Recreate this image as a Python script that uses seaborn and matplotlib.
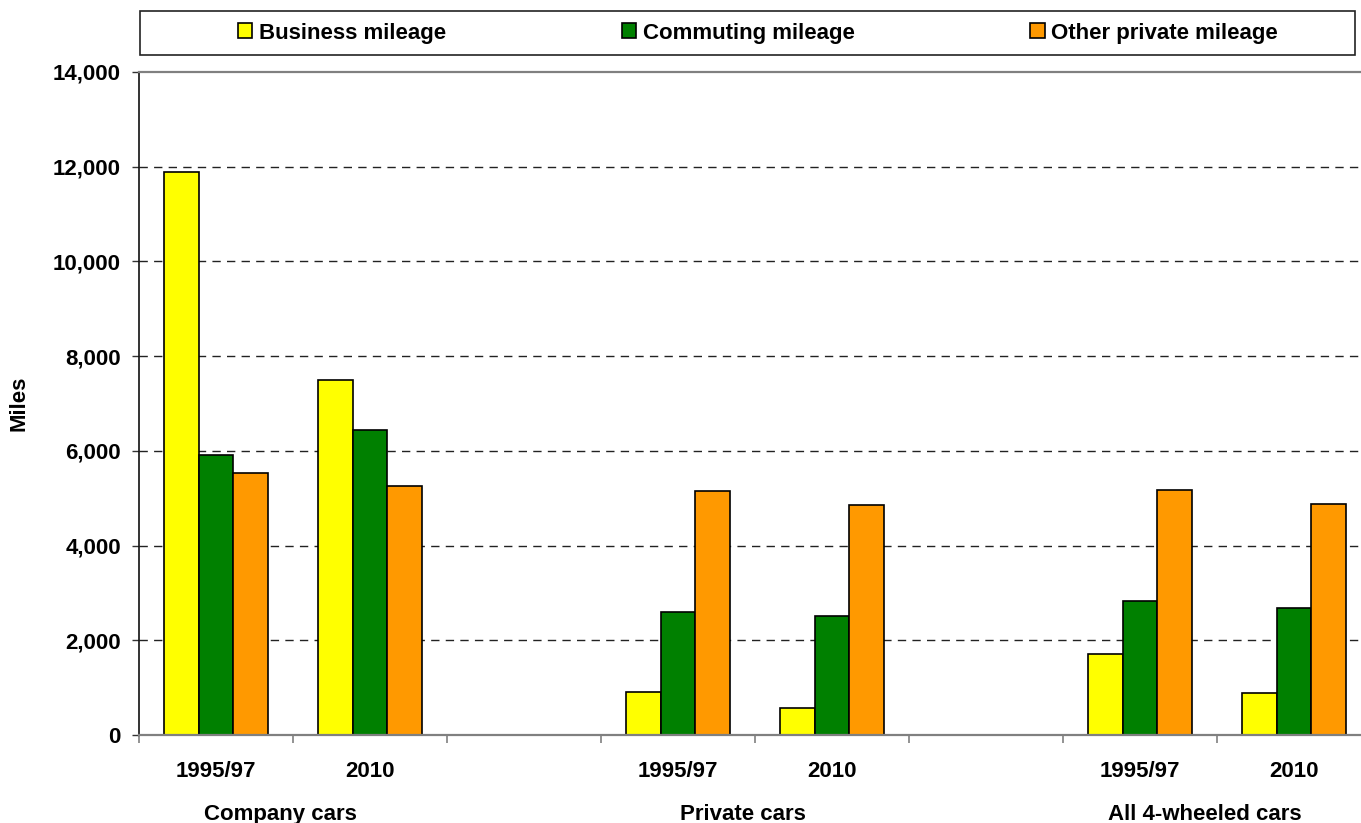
import matplotlib
matplotlib.use("Agg")
import matplotlib.pyplot as plt
import matplotlib.ticker as mticker
import matplotlib.transforms as mtransforms
from matplotlib.patches import Rectangle
import seaborn as sns
import pandas as pd
import numpy as np

# ---- data ----
groups = ["Company cars", "Private cars", "All 4-wheeled cars"]
years = ["1995/97", "2010"]
series = ["Business mileage", "Commuting mileage", "Other private mileage"]
business = [11880, 7500, 900, 580, 1710, 890]
commuting = [5920, 6450, 2590, 2510, 2830, 2680]
other_private = [5540, 5250, 5150, 4860, 5170, 4870]
colors = ["#FFFF00", "#008000", "#FF9900"]

# slot order (with empty spacer slots between groups)
order = []
tick_labels = []
group_first_index = []
for gi, g in enumerate(groups):
    if gi > 0:
        order.append(f"gap{gi}")
        tick_labels.append("")
    group_first_index.append(len(order))
    for y in years:
        order.append(f"{g} {y}")
        tick_labels.append(y)

rows = []
vals = [business, commuting, other_private]
k = 0
for g in groups:
    for y in years:
        for s, v in zip(series, vals):
            rows.append({"slot": f"{g} {y}", "series": s, "miles": v[k]})
        k += 1
df = pd.DataFrame(rows)

# ---- style ----
sns.set_style("white")
plt.rcParams["font.family"] = ["Liberation Sans", "DejaVu Sans"]
plt.rcParams["font.weight"] = "bold"
for key in ["text.color", "axes.labelcolor", "xtick.color", "ytick.color"]:
    plt.rcParams[key] = "black"
FS = 16

W, H = 1361, 823
fig = plt.figure(figsize=(W / 100, H / 100), dpi=100)
left, right, top, bottom = 139, 1371, 72, 735
ax = fig.add_axes([left / W, 1 - bottom / H, (right - left) / W, (bottom - top) / H])

sns.barplot(data=df, x="slot", y="miles", hue="series", order=order,
            hue_order=series, palette=colors, width=0.68, gap=0,
            edgecolor="black", linewidth=1.2, saturation=1, ax=ax, legend=True)

ax.set_xlim(-0.5, len(order) - 0.5)
ax.set_ylim(0, 14000)
ax.yaxis.set_major_locator(mticker.MultipleLocator(2000))
ax.yaxis.set_major_formatter(mticker.FuncFormatter(lambda v, p: f"{int(v):,}"))

# gridlines
ax.set_axisbelow(True)
for yv in range(2000, 14000, 2000):
    ax.axhline(yv, color="#222222", lw=1.0, ls=(0, (6, 4.5)), zorder=0)

# spines
ax.spines["top"].set_visible(True)
ax.spines["top"].set_color("#808080")
ax.spines["top"].set_linewidth(1.6)
ax.spines["right"].set_visible(False)
ax.spines["left"].set_color("#111111")
ax.spines["left"].set_linewidth(1.2)
ax.spines["bottom"].set_color("#808080")
ax.spines["bottom"].set_linewidth(1.6)

# x ticks: labels at slot centres, tick marks at slot boundaries
ax.set_xticks(np.arange(len(order)))
ax.set_xticklabels(tick_labels, fontsize=FS, fontweight="bold", color="black")
ax.set_xticks(np.arange(-0.5, len(order) + 0.5, 1.0), minor=True)
ax.tick_params(axis="x", which="major", length=0, pad=19)
ax.tick_params(axis="x", which="minor", length=6, width=1.2, color="#808080",
               direction="out", bottom=True)
ax.tick_params(axis="y", which="major", length=5, width=1.0, color="#333333",
               direction="out", left=True, pad=8, labelsize=FS, labelcolor="black")
for t in ax.get_yticklabels():
    t.set_fontweight("bold")

ax.set_xlabel("")
ax.set_ylabel("Miles", fontsize=FS, fontweight="bold", color="black")
ax.yaxis.set_label_coords(29 / W, (1 - (bottom + top) / 2 / H), transform=fig.transFigure)

# group labels
trans = mtransforms.blended_transform_factory(ax.transData, fig.transFigure)
for gname, fi in zip(groups, group_first_index):
    xd = fi + 0.42
    ax.text(xd, 1 - 820 / H, gname, transform=trans, clip_on=False,
            fontsize=FS, fontweight="bold", ha="center", va="baseline", color="black")

# legend
handles, labels = ax.get_legend_handles_labels()
ax.get_legend().remove()
leg = ax.legend(handles, labels, ncol=3, loc="center",
                bbox_to_anchor=(758 / W, 1 - 33 / H), bbox_transform=fig.transFigure,
                frameon=False, prop={"weight": "bold", "size": FS},
                handlelength=0.65, handleheight=0.65, handletextpad=0.3,
                columnspacing=7.9, borderpad=0)
for t in leg.get_texts():
    t.set_color("black")
for h in leg.legend_handles:
    h.set_edgecolor("black")
    h.set_linewidth(1.2)
fig.patches.append(Rectangle((140 / W, 1 - 55 / H), (1355 - 140) / W, 44 / H,
                             transform=fig.transFigure, fill=False,
                             edgecolor="#222222", lw=1.2))

fig.savefig("out.png", dpi=100)
